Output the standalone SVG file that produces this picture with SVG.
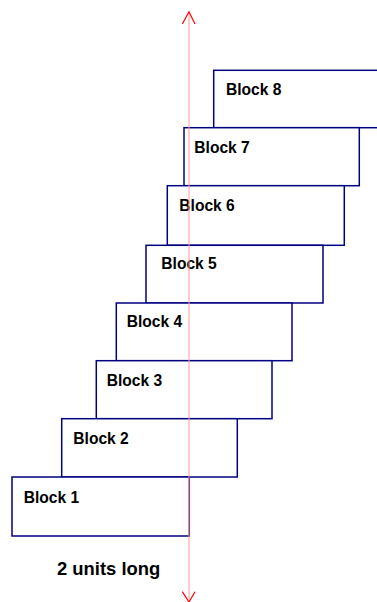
<svg xmlns="http://www.w3.org/2000/svg" width="377" height="602" viewBox="0 0 377 602">
<style>
.blk{fill:#fff;stroke:#000080;stroke-width:1.5}
.lbl{font-family:"Liberation Sans",Arial,sans-serif;font-weight:bold;font-size:15.6px;fill:#000}
.axis{stroke:#ff9a9a;stroke-width:1;fill:none}
.head{stroke:#ff0000;stroke-width:1.2;fill:none}
</style>
<rect width="377" height="602" fill="#fff"/>
<g id="block8"><rect class="blk" x="213.7" y="70.3" width="176" height="57.4"/><text class="lbl" x="226" y="95">Block 8</text></g>
<g id="block7"><rect class="blk" x="184" y="127.7" width="175.3" height="58"/><text class="lbl" x="194.3" y="152.7">Block 7</text></g>
<g id="block6"><rect class="blk" x="167.3" y="185.7" width="177" height="59.6"/><text class="lbl" x="179.3" y="211">Block 6</text></g>
<g id="block5"><rect class="blk" x="146" y="245.3" width="177" height="57.7"/><text class="lbl" x="161.3" y="268.7">Block 5</text></g>
<g id="block4"><rect class="blk" x="116.3" y="303" width="175.7" height="57.7"/><text class="lbl" x="126.7" y="327">Block 4</text></g>
<g id="block3"><rect class="blk" x="96.3" y="360.7" width="175.7" height="58"/><text class="lbl" x="106.7" y="385.7">Block 3</text></g>
<g id="block2"><rect class="blk" x="61.7" y="418.7" width="175.6" height="58.3"/><text class="lbl" x="73.3" y="444">Block 2</text></g>
<g id="block1"><rect class="blk" x="12" y="477" width="177.3" height="59"/><text class="lbl" x="23.7" y="502.7">Block 1</text></g>
<g id="connectors">
<line class="axis" x1="189" y1="12" x2="189" y2="602"/>
<polyline class="head" points="182.3,24 189,11.7 195,24"/>
<polyline class="head" points="182.3,591.7 189,602 195,591.7"/>
</g>
<g id="caption"><text x="57" y="575" font-family="'Liberation Sans',Arial,sans-serif" font-weight="bold" font-size="18.4px" fill="#000">2 units long</text></g>
</svg>
